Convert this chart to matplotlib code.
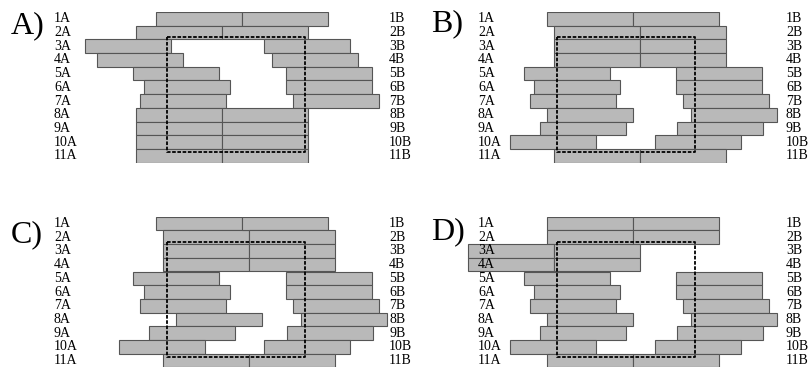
import matplotlib
matplotlib.use("Agg")
import matplotlib.pyplot as plt
import numpy as np

plt.rcParams["font.family"] = ["Liberation Serif", "DejaVu Serif"]

rows = np.arange(1, 12)
a_labels = [f"{i}A" for i in rows]
b_labels = [f"{i}B" for i in rows]
bar_len = 86

# left edge of each A and B bar (panel pixel units)
a_left_A = [156, 136, 85, 97, 133, 144, 140, 136, 136, 136, 136]
b_left_A = [242, 222, 264, 272, 286, 286, 293, 222, 222, 222, 222]

a_left_B = [142, 149, 149, 149, 119, 129, 125, 142, 135, 105, 149]
b_left_B = [228, 235, 235, 235, 271, 271, 278, 286, 272, 250, 235]

a_left_C = [156, 163, 163, 163, 133, 144, 140, 176, 149, 119, 163]
b_left_C = [242, 249, 249, 249, 286, 286, 293, 301, 287, 264, 249]

a_left_D = [142, 142, 63, 63, 119, 129, 125, 142, 135, 105, 142]
b_left_D = [228, 228, 149, 149, 271, 271, 278, 286, 272, 250, 228]

# dashed frame: x0, x1, y0, y1
box_A = (167, 305, 2.3, 10.7)
box_B = (152, 290, 2.3, 10.7)
box_C = (167, 305, 2.37, 10.76)
box_D = (152, 290, 2.37, 10.76)

panels = [
    ("A)", a_left_A, b_left_A, box_A, 0, 12, 54, 389, 11, 1.47),
    ("B)", a_left_B, b_left_B, box_B, 405, 12, 73, 381, 26, 1.36),
    ("C)", a_left_C, b_left_C, box_C, 0, 216.7, 54, 389, 11, 1.78),
    ("D)", a_left_D, b_left_D, box_D, 405, 216.7, 73, 381, 26, 1.6),
]

W, H = 810, 369
row_h = 13.7
fig = plt.figure(figsize=(W / 100, H / 100), dpi=100)

for title, a_left, b_left, box, px, top, xa, xb, xt, yt in panels:
    hgt = row_h * 11
    ax = fig.add_axes([px / W, 1 - (top + hgt) / H, 405 / W, hgt / H])
    ax.set_xlim(0, 405)
    ax.set_ylim(11.5, 0.5)
    ax.axis("off")

    style = dict(height=1, color="#b9b9b9", edgecolor="#555555", linewidth=0.8)
    ax.barh(rows, bar_len, left=a_left, **style)
    ax.barh(rows, bar_len, left=b_left, **style)

    x0, x1, y0, y1 = box
    ax.plot([x0, x1, x1, x0, x0], [y0, y0, y1, y1, y0], color="black",
            lw=1.3, linestyle=(0, (2, 0.9)), zorder=5, clip_on=False)

    for r in rows:
        ax.text(xa, r, a_labels[r - 1], ha="left", va="center", fontsize=10,
                zorder=6, clip_on=False)
        ax.text(xb, r, b_labels[r - 1], ha="left", va="center", fontsize=10,
                zorder=6, clip_on=False)

    ax.text(xt, yt, title, ha="left", va="center", fontsize=23, clip_on=False)

fig.savefig("out.png", dpi=100)
